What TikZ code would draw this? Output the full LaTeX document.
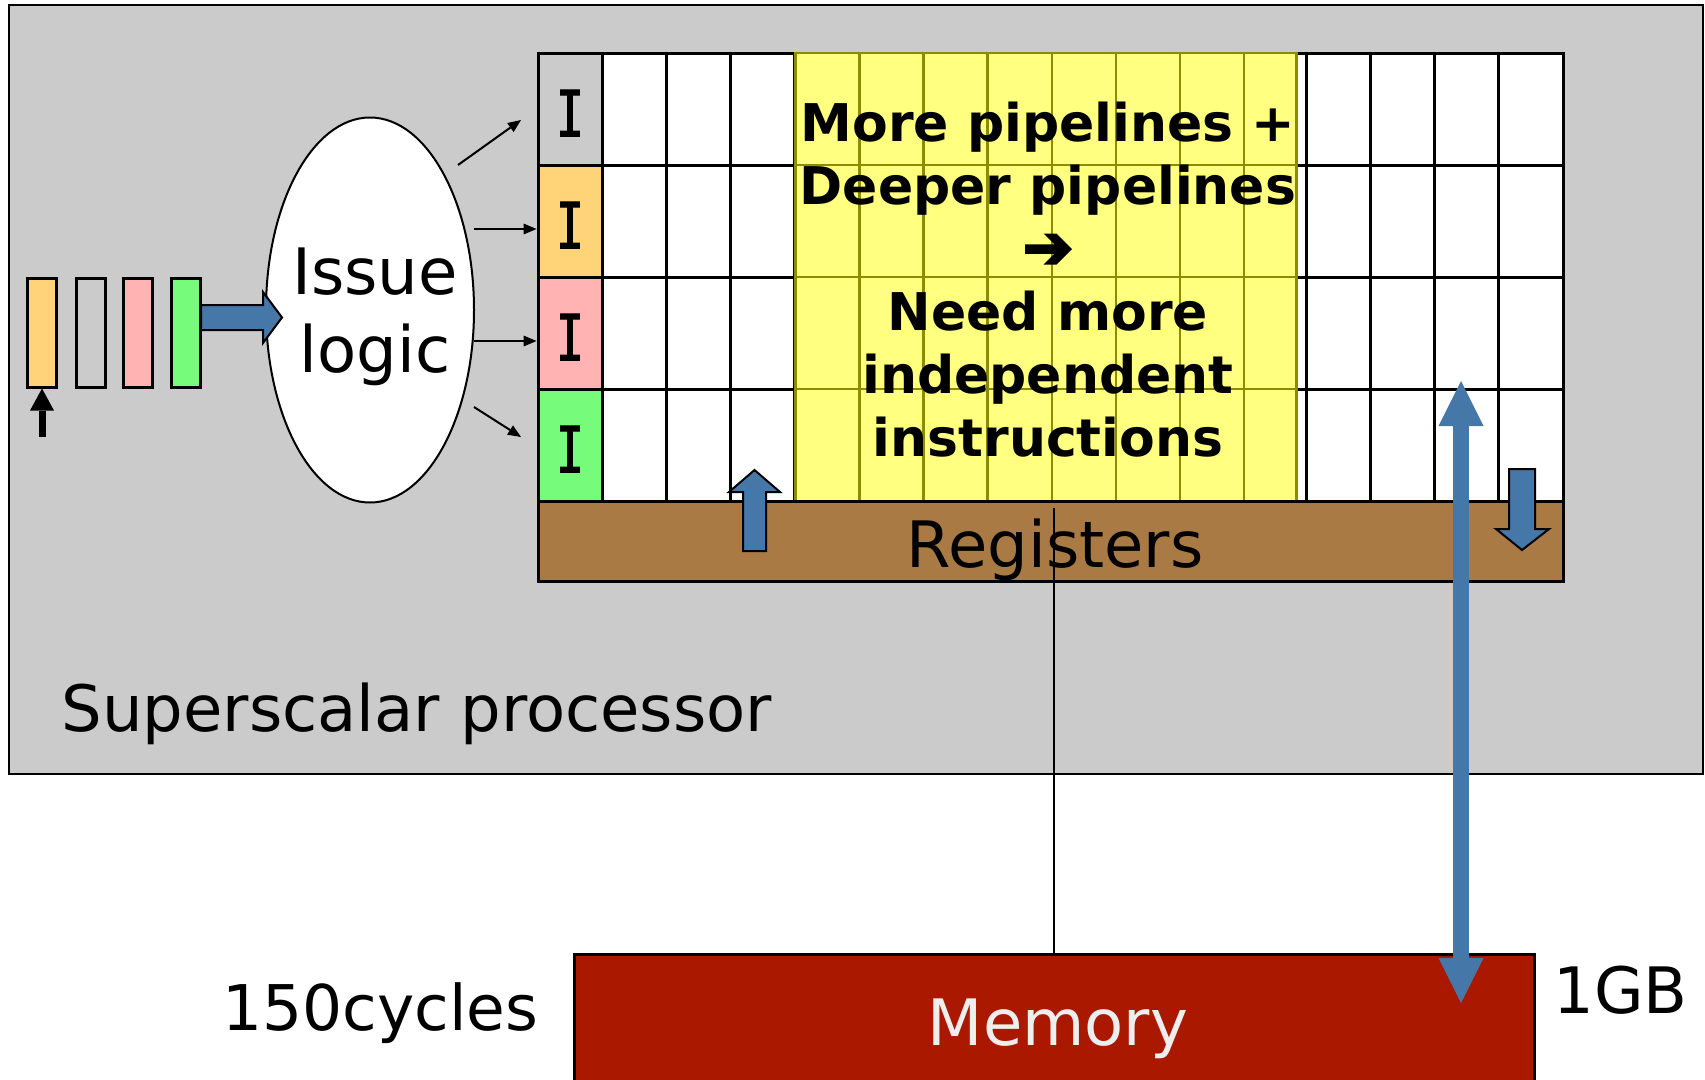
\documentclass[tikz,border=0pt]{standalone}
\usepackage{fontspec}
\setmainfont{DejaVu Sans}
\newfontfamily\imono[FakeStretch=0.72,FakeBold=1.5]{DejaVu Sans Mono}
\newfontfamily\heavyarrow[FakeBold=4]{DejaVu Sans}
\usetikzlibrary{arrows.meta,shapes.geometric,positioning}

\definecolor{procgray}{HTML}{CBCBCB}
\definecolor{iorange}{HTML}{FFD479}
\definecolor{ipink}{HTML}{FFB3B3}
\definecolor{igreen}{HTML}{76FC7A}
\definecolor{pipeyellow}{HTML}{FFFF80}
\definecolor{gridolive}{HTML}{8C8C00}
\definecolor{regbrown}{HTML}{A97A44}
\definecolor{memred}{HTML}{AA1800}
\definecolor{memwhite}{HTML}{EEEEEE}
\definecolor{busblue}{HTML}{4578A9}

\begin{document}
\begin{tikzpicture}
  [
  x=1pt, y=-1pt, line width=3pt,
  cell/.style={rectangle, draw=black, fill=white, inner sep=0pt,
    minimum width=64.06pt, minimum height=112pt},
  icell/.style={cell, font=\imono\fontsize{64}{64}\selectfont,
    text height=55pt, text depth=0pt},
  ycell/.style={rectangle, draw=gridolive, fill=pipeyellow, line width=2.5pt,
    inner sep=0pt, minimum height=112pt},
  slot/.style={rectangle, draw=black, inner sep=0pt,
    minimum width=29pt, minimum height=109pt},
  bigtext/.style={font=\fontsize{64}{78}\selectfont, inner sep=0pt},
  issuearrow/.style={line width=2pt, -{Triangle[length=13pt,width=11pt,line width=0pt]}},
  blockarrow/.style={draw=black, line width=2pt, fill=busblue},
  bus/.style={draw=busblue, line width=16pt,
    {Triangle[length=45pt,width=45pt,line width=0pt]}-{Triangle[length=45pt,width=45pt,line width=0pt]}}
  ]

\useasboundingbox (0,0) rectangle (1705,1079);

% processor
\draw[fill=procgray, line width=2pt] (9,5) rectangle (1703,774);
\node[bigtext, anchor=base west] (proclabel) at (60,731) {Superscalar processor};

% pipelines
\foreach \c in {1,...,16} {
  \foreach \r in {1,...,4} {
    \node[cell] (c\c r\r) at ({538+64.0625*\c-32.03}, {112*\r-3}) {};
  }
}
\foreach \r/\col in {1/procgray,2/iorange,3/ipink,4/igreen} {
  \node[icell, fill=\col] (i\r) at (c1r\r) {I};
}
\foreach \c/\w in {5/64.06,6/64.06,7/64.06,8/64.06,9/64.06,10/64.06,11/64.06,12/52.3} {
  \foreach \r in {1,...,4} {
    \node[ycell, minimum width={\w pt}, anchor=west] (y\c r\r)
      at ({538+64.0625*(\c-1)}, {112*\r-3}) {};
  }
}
\node[font=\bfseries\fontsize{52}{63}\selectfont, align=center, inner sep=0pt]
  (note) at (1048,280)
  {More pipelines +\\Deeper pipelines\\{\heavyarrow\fontsize{60}{63}\selectfont ➔}\\Need more\\independent\\instructions};

% registers
\node[rectangle, draw=black, fill=regbrown, inner sep=0pt,
  minimum width=1025pt, minimum height=80pt] (regs) at (1050.5,541) {};
\node[bigtext, anchor=base] (regname) at (1055,567) {Registers};

% instruction queue
\foreach \s/\col/\x in {1/iorange/42,2/procgray/90.5,3/ipink/137.5,4/igreen/185.5} {
  \node[slot, fill=\col] (slot\s) at (\x,332.5) {};
}
\coordinate (feed) at (42,437);
\draw[line width=7pt, -{Triangle[length=22pt,width=24pt,line width=0pt]}] (feed) -- (slot1);

\node[ellipse, draw=black, fill=white, line width=2pt, inner sep=0pt,
  minimum width=208pt, minimum height=385pt] (issue) at (370,310) {};
\node[bigtext, align=center] (issuetext) at (375,317) {Issue\\logic};

\draw[blockarrow] (201,305) -- (263,305) -- (263,292) -- (282,317.5)
  -- (263,343) -- (263,330) -- (201,330) -- cycle;

\coordinate (o1) at (458,165);
\coordinate (e1) at (521,120);
\coordinate (o2) at (474,229);
\coordinate (o3) at (474,341);
\coordinate (o4) at (474,407);
\coordinate (e4) at (521,437);
\draw[issuearrow] (o1) -- (e1);
\draw[issuearrow] (o2) -- (o2 -| i2.west);
\draw[issuearrow] (o3) -- (o3 -| i3.west);
\draw[issuearrow] (o4) -- (e4);

% register ports
\draw[blockarrow] (743,551) -- (743,492) -- (729,492) -- (754.5,470)
  -- (780,492) -- (766,492) -- (766,551) -- cycle;
\draw[blockarrow] (1509,469) -- (1535,469) -- (1535,529) -- (1549,529)
  -- (1522,550) -- (1496,529) -- (1509,529) -- cycle;

% memory
\node[rectangle, draw=black, fill=memred, inner sep=0pt,
  minimum width=960pt, minimum height=152pt] (memory) at (1054,1030) {};
\node[bigtext, text=memwhite, anchor=base] (memname) at (1058,1045) {Memory};
\node[bigtext, font=\fontsize{63}{78}\selectfont, anchor=base east] (latency) at (540,1030) {150cycles};
\node[bigtext, anchor=base west] (capacity) at (1552,1013) {1GB};

\coordinate (regtap) at (1054,508);
\draw[line width=1.5pt] (regtap) -- (memory.north);

\coordinate (busup) at (1461,381);
\coordinate (busdown) at (1461,1003);
\draw[bus] (busdown) -- (busup);

\end{tikzpicture}
\end{document}
